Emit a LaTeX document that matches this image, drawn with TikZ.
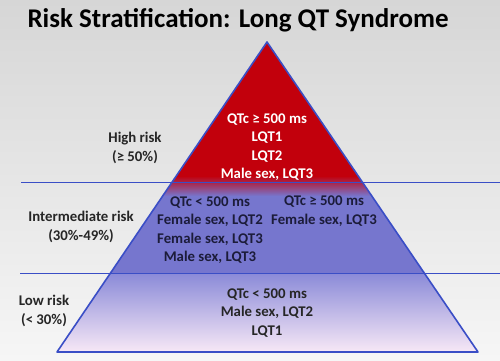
\documentclass[tikz,border=0pt]{standalone}
\usepackage{fontspec}
\setmainfont{Carlito}
\usetikzlibrary{positioning}

\definecolor{bgtop}{HTML}{D6D6D6}
\definecolor{bgbot}{HTML}{F6F6F6}
\definecolor{riskred}{HTML}{C2000C}
\definecolor{midblue}{HTML}{7676CE}
\definecolor{lowtop}{HTML}{8A8AD8}
\definecolor{lowbot}{HTML}{F7E8F6}
\definecolor{edgeblue}{HTML}{3A4EC6}
\definecolor{inktext}{HTML}{262626}
\definecolor{midtext}{HTML}{1C1C3A}

\tikzset{
  sidelbl/.style={align=center, text=inktext, font=\bfseries\fontsize{14.8}{18.5}\selectfont},
  tierlbl/.style={align=center, font=\bfseries\fontsize{14.8}{18.5}\selectfont},
  rule/.style={edgeblue, line width=1pt}
}

\begin{document}
\begin{tikzpicture}[x=1pt, y=-1pt]
	\useasboundingbox (0,0) rectangle (500,360);
	\shade[top color=bgtop, bottom color=bgbot] (0,0) rectangle (500,360);
	% pyramid corners
	\coordinate (apex) at (267,42);
	\coordinate (baseL) at (57,352);
	\coordinate (baseR) at (478,352);
	\begin{scope}
		\clip (apex) -- (baseL) -- (baseR) -- cycle;
		\fill[riskred] (0,0) rectangle (500,176);
		\shade[top color=riskred, bottom color=midblue] (0,176) rectangle (500,196);
		\fill[midblue] (0,196) rectangle (500,274);
		\shade[top color=lowtop, bottom color=lowbot] (0,273) rectangle (500,352);
	\end{scope}
	\draw[edgeblue, line width=1.6pt, line join=round] (apex) -- (baseL) -- (baseR) -- cycle;
	% tier borders
	\coordinate (cutA) at (21,182);
	\coordinate (cutB) at (20,273);
	\draw[rule] (cutA) -- (500,182);
	\draw[rule] (cutB) -- (500,273);
	% title
	\node[anchor=west, text=black, font=\bfseries\fontsize{27}{32}\selectfont] (title) at (24,20) {Risk Stratification: Long QT Syndrome};
	% side labels
	\node[sidelbl] (high) at (135,148) {High risk\\(≥ 50\%)};
	\node[sidelbl] (inter) at (81,227) {Intermediate risk\\(30\%-49\%)};
	\node[sidelbl] (low) at (44,311) {Low risk\\(< 30\%)};
	% tier contents
	\node[tierlbl, text=white] (tophigh) at (267,147) {QTc ≥ 500 ms\\LQT1\\LQT2\\Male sex, LQT3};
	\node[tierlbl, text=midtext] (midleft) at (210,230) {QTc < 500 ms\\Female sex, LQT2\\Female sex, LQT3\\Male sex, LQT3};
	\node[tierlbl, text=midtext] (midright) at (324,211) {QTc ≥ 500 ms\\Female sex, LQT3};
	\node[tierlbl, text=inktext] (bottom) at (267,313) {QTc < 500 ms\\Male sex, LQT2\\LQT1};
\end{tikzpicture}
\end{document}
